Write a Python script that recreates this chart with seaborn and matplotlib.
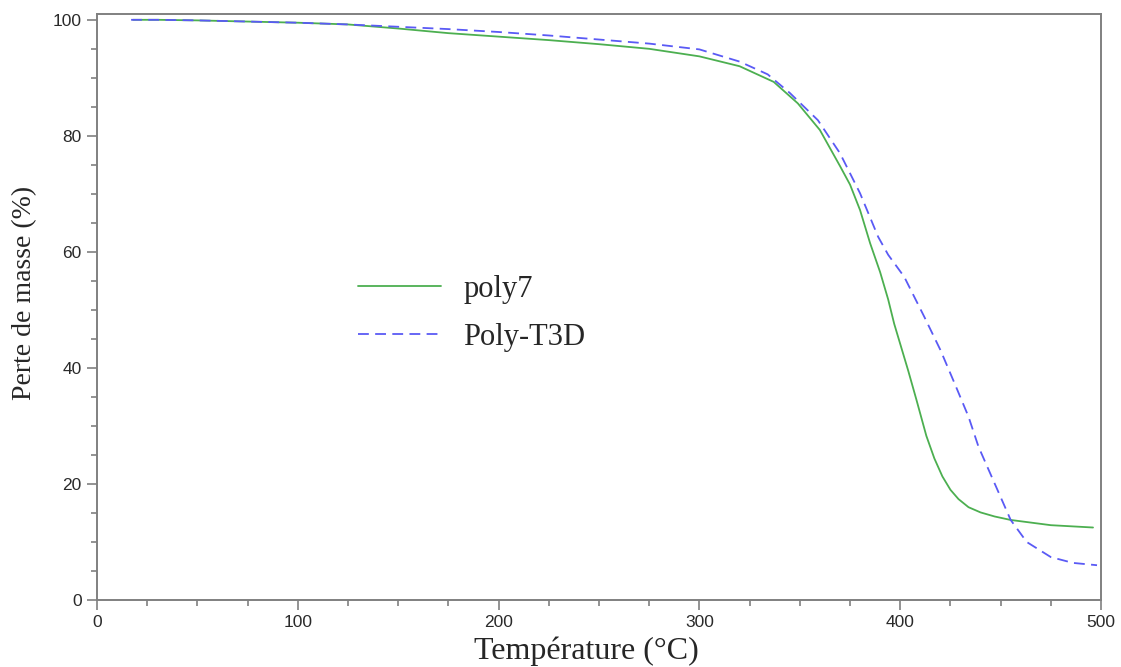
import numpy as np
import pandas as pd
import seaborn as sns
from matplotlib import pyplot as plt
from matplotlib.ticker import MultipleLocator

# values
temp_poly7 = [18, 30, 50, 75, 100, 125, 150, 175, 200, 225, 250, 275, 300, 320, 337,
              349, 360, 370, 375, 380, 385, 390, 394, 397, 404, 408, 413, 417, 421,
              425, 429, 434, 440, 447, 455, 475, 496]
mass_poly7 = [100.0, 100.0, 99.9, 99.7, 99.5, 99.2, 98.5, 97.7, 97.1, 96.5, 95.8, 95.0,
              93.7, 92.0, 89.3, 85.6, 81.0, 74.8, 71.6, 67.2, 61.5, 56.5, 51.8, 47.6,
              39.5, 34.6, 28.3, 24.4, 21.3, 19.0, 17.4, 16.0, 15.1, 14.4, 13.8, 12.9,
              12.5]

temp_t3d = [17, 30, 50, 75, 100, 125, 150, 175, 200, 225, 250, 275, 300, 320, 334, 345,
            359, 370, 380, 389, 394, 402, 412, 420, 427, 434, 439, 447, 455, 463, 475,
            486, 498]
mass_t3d = [100.0, 100.0, 99.9, 99.7, 99.5, 99.2, 98.8, 98.4, 97.9, 97.3, 96.6, 95.9,
            94.9, 92.8, 90.6, 87.4, 82.7, 77.0, 70.1, 62.6, 59.5, 55.7, 48.8, 43.1,
            37.4, 31.6, 26.4, 20.1, 13.8, 10.0, 7.4, 6.4, 6.0]

x_ticks = [0, 100, 200, 300, 400, 500]
y_ticks = [0, 20, 40, 60, 80, 100]


def main():
    sns.set_style("white")
    plt.rcParams['font.family'] = ['Liberation Sans', 'DejaVu Sans']

    df1 = pd.DataFrame({'T': temp_poly7, 'm': mass_poly7})
    df2 = pd.DataFrame({'T': temp_t3d, 'm': mass_t3d})

    fig = plt.figure(figsize=(11.21, 6.67), dpi=100)
    ax = fig.add_axes([0.0865, 0.1004, 0.8957, 0.8786])

    sns.lineplot(data=df1, x='T', y='m', ax=ax, color='#4caf50', lw=1.3,
                 label='poly7', sort=False)
    sns.lineplot(data=df2, x='T', y='m', ax=ax, color='#5a5af5', lw=1.3,
                 label='Poly-T3D', sort=False)
    ax.lines[1].set_dashes((6, 3.5))

    ax.set_xlim(0, 500)
    ax.set_ylim(0, 101)
    ax.set_xticks(x_ticks)
    ax.set_yticks(y_ticks)
    ax.xaxis.set_minor_locator(MultipleLocator(25))
    ax.yaxis.set_minor_locator(MultipleLocator(5))

    for s in ax.spines.values():
        s.set_color('#808080')
        s.set_linewidth(1.4)
        s.set_visible(True)
    ax.tick_params(which='major', direction='out', length=7, width=1.2,
                   color='#808080', labelsize=12.5, labelcolor='#2a2a2a', pad=4,
                   bottom=True, left=True)
    ax.tick_params(which='minor', direction='out', length=4, width=1.2,
                   color='#808080', bottom=True, left=True)

    serif = ['Liberation Serif', 'DejaVu Serif']
    ax.set_xlabel('Température (°C)', fontsize=23, family=serif)
    ax.set_ylabel('Perte de masse (%)', fontsize=20, family=serif)
    ax.xaxis.label.set_va('center')
    ax.yaxis.label.set_va('center')
    ax.xaxis.set_label_coords(0.487, -0.087)
    ax.yaxis.set_label_coords(-0.0717, 0.524)

    ax.legend(loc='center left', bbox_to_anchor=(0.26, 0.489), frameon=False,
              prop={'family': serif, 'size': 22}, handlelength=2.7,
              handletextpad=0.75, labelspacing=0.62, borderpad=0,
              borderaxespad=0)

    fig.savefig('out.png', dpi=100)


if __name__ == "__main__":
    main()
